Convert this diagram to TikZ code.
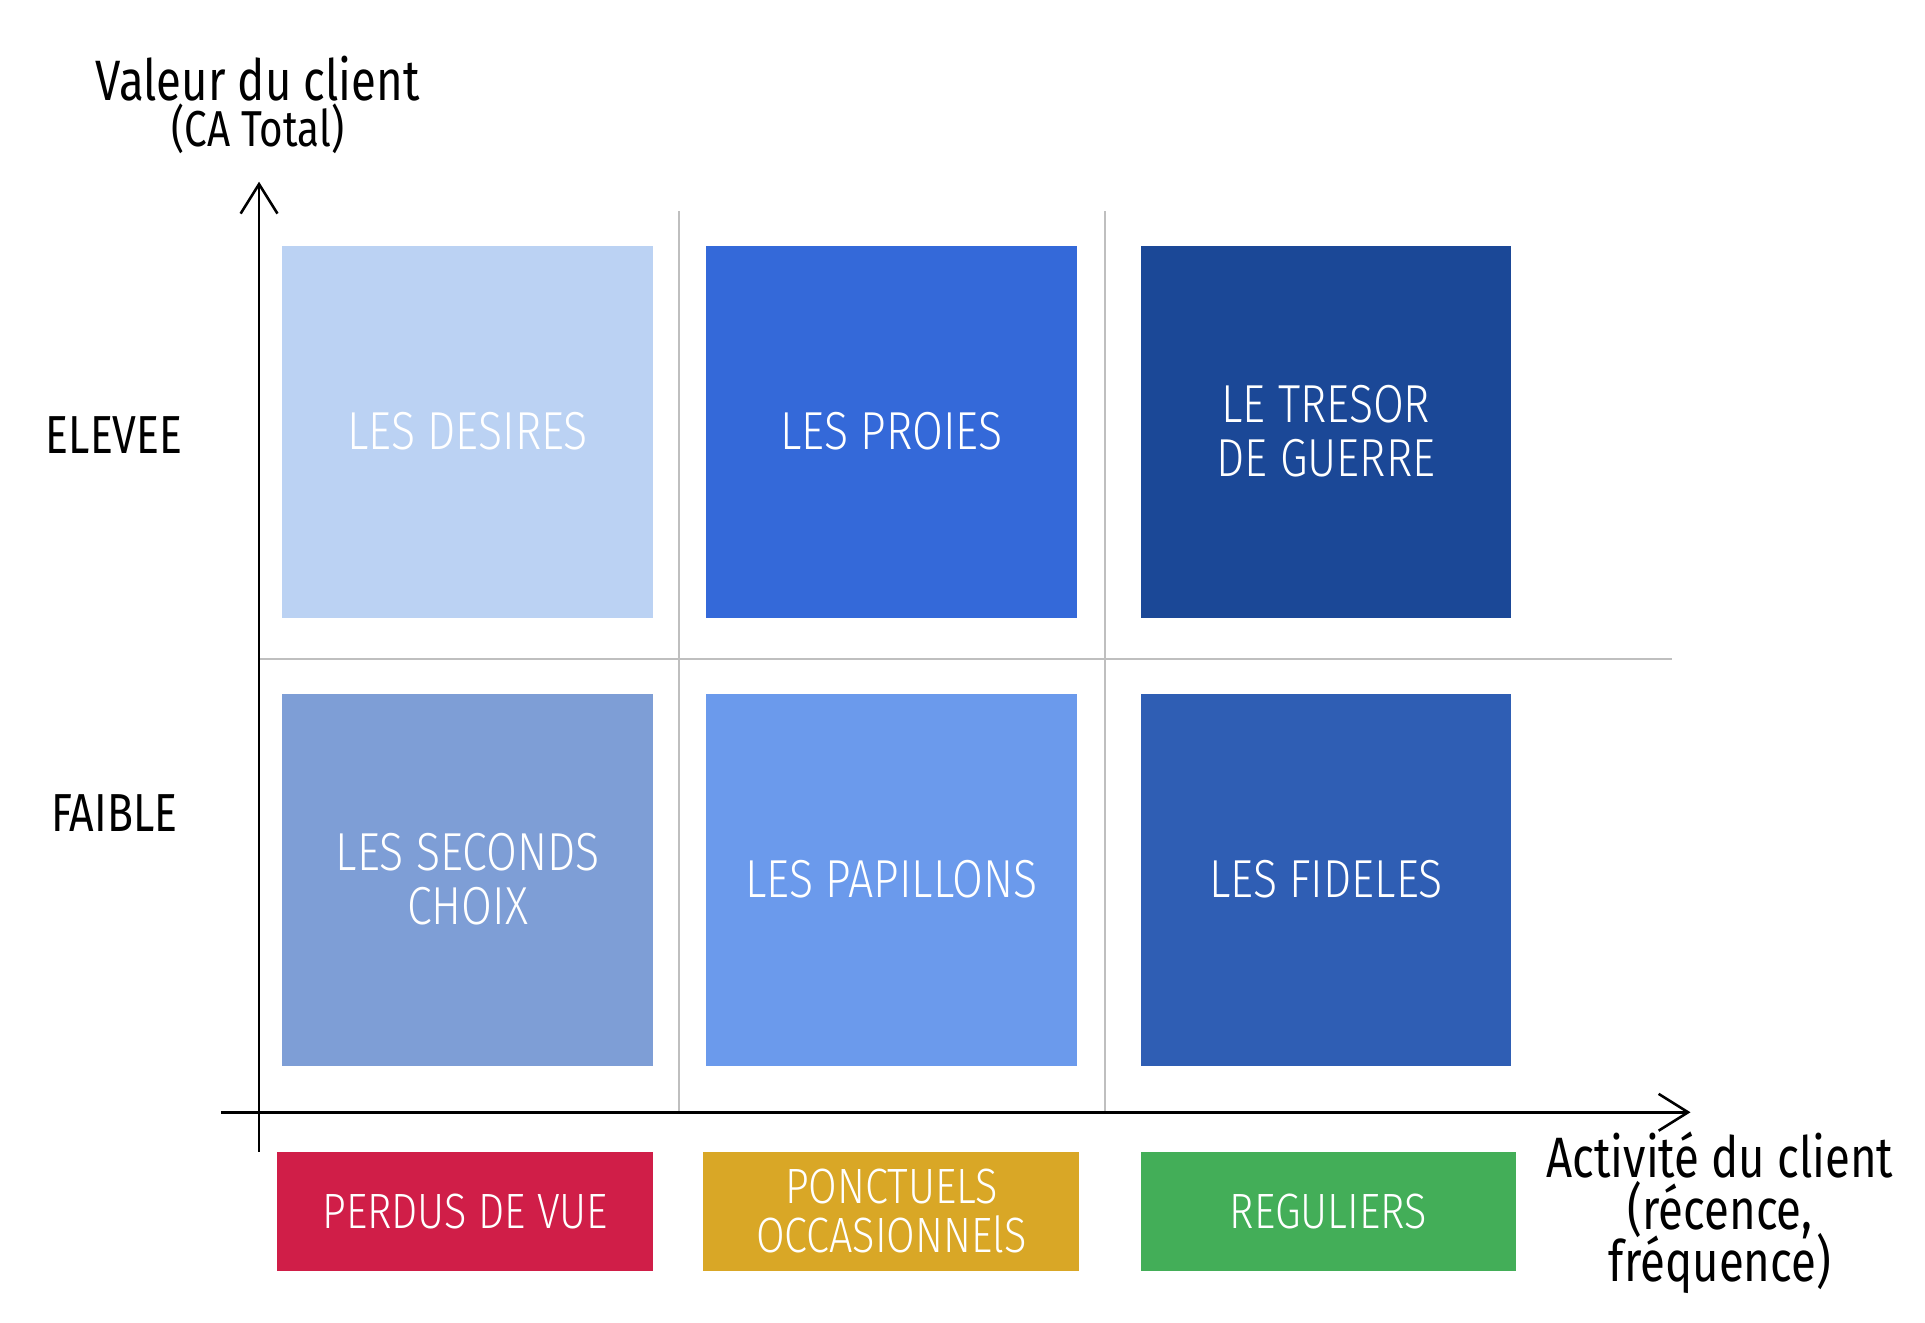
\documentclass[tikz,border=0pt]{standalone}
\usepackage{fontspec}
\setmainfont[FakeStretch=0.8]{Fira Sans}
\newfontfamily\lightfont[FakeStretch=0.835]{Fira Sans Light}
\usetikzlibrary{arrows.meta}
\definecolor{desiresblue}{HTML}{BBD2F3}
\definecolor{proiesblue}{HTML}{3469D9}
\definecolor{tresorblue}{HTML}{1B4897}
\definecolor{secondsblue}{HTML}{7E9ED6}
\definecolor{papillonsblue}{HTML}{6B9AEC}
\definecolor{fidelesblue}{HTML}{2F5EB4}
\definecolor{perdusred}{HTML}{D01E48}
\definecolor{ponctuelsgold}{HTML}{D9A726}
\definecolor{reguliersgreen}{HTML}{43AE58}
\definecolor{gridgray}{HTML}{BFBFBF}
\tikzset{
  tight/.style={execute at begin node={\lineskiplimit=-20pt\relax}},
  cell/.style={tight, minimum width=3.02cm, minimum height=3.03cm, inner sep=0, text=white,
    align=center, font=\lightfont\fontsize{12.4}{12.5}\selectfont},
  tag/.style={tight, minimum width=3.06cm, minimum height=0.97cm, inner sep=0, text=white,
    align=center, font=\lightfont\fontsize{11.5}{11.3}\selectfont},
  axis/.style={black, line width=0.6pt, -{Straight Barb[length=2.4mm, width=3mm]}},
  gridline/.style={gridgray, line width=0.4pt},
  axislabel/.style={tight, inner sep=0, align=center, font=\fontsize{13.2}{12}\selectfont}
}

\begin{document}
\begin{tikzpicture}
\useasboundingbox (0,0) rectangle (15.68,-10.775);
\draw[gridline] (5.53,-1.72) -- (5.53,-9.06);
\draw[gridline] (9.00,-1.72) -- (9.00,-9.06);
\draw[gridline] (2.11,-5.37) -- (13.62,-5.37);
\coordinate (ybot) at (2.11,-9.38);
\coordinate (ytop) at (2.11,-1.48);
\coordinate (xleft) at (1.80,-9.06);
\coordinate (xright) at (13.77,-9.06);
\draw[axis] (ybot) -- (ytop);
\draw[axis] (xleft) -- (xright);
\foreach \nm/\x/\y/\col/\txt in {
  desires/3.81/-3.515/desiresblue/{LES DESIRES},
  proies/7.26/-3.515/proiesblue/{LES PROIES},
  tresor/10.80/-3.515/tresorblue/{LE TRESOR\\DE GUERRE},
  seconds/3.81/-7.165/secondsblue/{LES SECONDS\\CHOIX},
  papillons/7.26/-7.165/papillonsblue/{LES PAPILLONS},
  fideles/10.80/-7.165/fidelesblue/{LES FIDELES}} {
  \node[cell, fill=\col] (\nm) at (\x,\y) {\txt};
}
\foreach \nm/\x/\col/\txt in {
  perdus/3.79/perdusred/{PERDUS DE VUE},
  ponctuels/7.26/ponctuelsgold/{PONCTUELS\\OCCASIONNElS},
  reguliers/10.82/reguliersgreen/{REGULIERS}} {
  \node[tag, fill=\col] (\nm) at (\x,-9.865) {\txt};
}
\node[axislabel, font=\fontsize{12.4}{11.7}\selectfont] (elevee) at (0.93,-3.54) {ELEVEE};
\node[axislabel, font=\fontsize{12.4}{11.7}\selectfont] (faible) at (0.93,-6.62) {FAIBLE};
\node[axislabel] (valeur) at (2.10,-0.64) {Valeur du client};
\node[axislabel, font=\fontsize{11.7}{11.7}\selectfont] (ca) at (2.10,-1.05) {(CA Total)};
\node[axislabel] (activite) at (14.01,-9.88) {Activité du client\\(récence,\\fréquence)};
\end{tikzpicture}
\end{document}
